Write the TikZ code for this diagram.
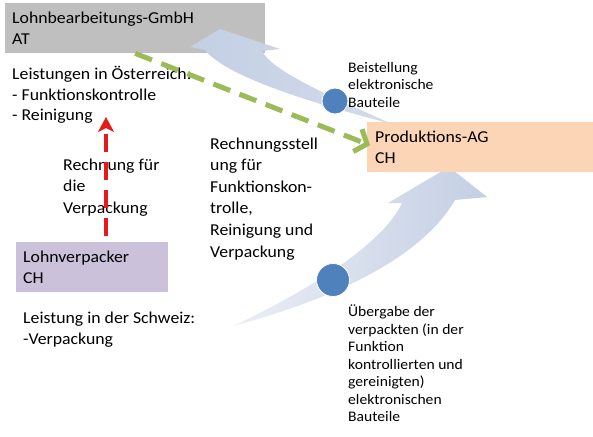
\documentclass[tikz,border=0pt]{standalone}
\usepackage{fontspec}
\setmainfont{Carlito}[FakeStretch=1.07]
\usetikzlibrary{arrows.meta,calc}
\definecolor{boxgray}{HTML}{BFBFBF}
\definecolor{boxpeach}{HTML}{FBD5B5}
\definecolor{boxlav}{HTML}{CCC1DA}
\definecolor{arrblue}{RGB}{196,207,228}
\definecolor{dotblue}{HTML}{4F81BD}
\definecolor{dgreen}{HTML}{9BBB59}
\definecolor{dred}{RGB}{228,26,28}
\tikzset{
  box/.style={draw=none, inner xsep=7pt, inner ysep=0pt, minimum height=50pt,
    anchor=north west, align=left, font=\fontsize{16.6}{20.5}\selectfont},
  bigtxt/.style={font=\fontsize{16.6}{20.5}\selectfont, align=left, inner sep=0pt, anchor=base west},
  smalltxt/.style={font=\fontsize{14.6}{17.5}\selectfont, align=left, inner sep=0pt, anchor=base west},
  dot/.style={circle, fill=dotblue, draw=white, line width=0.8pt, inner sep=0pt},
  greenline/.style={draw=dgreen, line width=5pt, dash pattern=on 18pt off 10pt,
    -{Straight Barb[length=10pt,width=24pt]}},
  redline/.style={draw=dred, line width=4pt, dash pattern=on 18pt off 10pt,
    -{Stealth[length=15pt,width=16pt,inset=4pt]}},
}
\begin{document}
\begin{tikzpicture}[x=1pt,y=-1pt]
\useasboundingbox (0,0) rectangle (593,436);
% lower flow arrow
\shade[left color=arrblue!35, right color=arrblue]
  (233,326) .. controls (330,300) and (420,260) .. (455,200) -- (487,197) -- (449,167)
  -- (388,203) -- (402,203) .. controls (385,240) and (320,285) .. cycle;
% boxes
\node[box, fill=boxgray, minimum width=260pt, text width=246pt] (gmbh) at (5,3) {Lohnbearbeitungs-GmbH\\AT};
\node[box, fill=boxpeach, minimum width=233pt, inner xsep=8pt, text width=217pt] (agbox) at (367,122) {Produktions-AG\\CH};
\node[box, fill=boxlav, minimum width=152pt, text width=138pt] (verp) at (16,242) {Lohnverpacker\\CH};
% upper flow arrow
\shade[left color=arrblue, right color=arrblue!75]
  (392,124) .. controls (320,92) and (272,70) .. (262,51) -- (280,49) -- (220,29)
  -- (190,47) -- (205,50) .. controls (225,75) and (300,100) .. cycle;
% dots
\node[dot, minimum size=26pt] (c1) at (335,101) {};
\node[dot, minimum size=33pt] (c2) at (333,280) {};
% texts (anchor = baseline of the last line)
\node[bigtxt] (leistAT) at (12,120.5) {Leistungen in Österreich:\\- Funktionskontrolle\\- Reinigung};
\node[bigtxt, font=\fontsize{16.6}{21.5}\selectfont] (rechVerp) at (63,213) {Rechnung für\\die\\Verpackung};
\node[bigtxt, font=\fontsize{16.6}{21.6}\selectfont] (rechAll) at (210,257)
  {Rechnungsstell\\ung für\\Funktionskon-\\trolle,\\Reinigung und\\Verpackung};
\node[bigtxt] (leistCH) at (23,344) {Leistung in der Schweiz:\\-Verpackung};
\node[smalltxt] (beist) at (348,107) {Beistellung\\elektronische\\Bauteile};
\node[smalltxt] (ueber) at (348,421.7) {Übergabe der\\verpackten (in der\\Funktion\\kontrollierten und\\gereinigten)\\elektronischen\\Bauteile};
% connectors
\coordinate (redA) at (106,236);
\coordinate (redB) at (106,117);
\draw[greenline] (gmbh.south) -- ($(agbox.west)+(3,-2)$);
\draw[redline] (redA) -- (redB);
\end{tikzpicture}
\end{document}
